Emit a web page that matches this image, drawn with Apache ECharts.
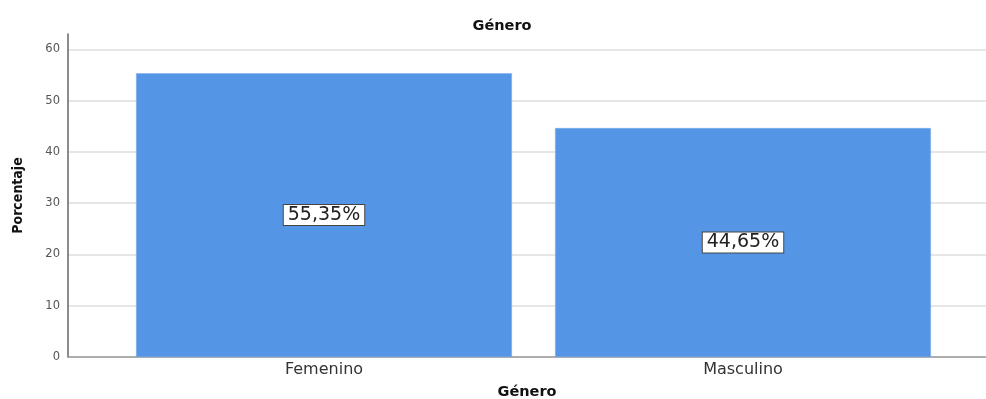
<!DOCTYPE html>
<html>
<head>
<meta charset="utf-8">
<script src="https://cdn.jsdelivr.net/npm/echarts@6/dist/echarts.min.js"></script>
<style>
  html, body { margin: 0; padding: 0; background: #fff; }
  #chart { width: 986px; height: 399px; }
</style>
</head>
<body>
<div id="chart"></div>
<script>
// Gender distribution (percent)
const chartTitle = 'Género';
const categories = ['Femenino', 'Masculino'];
const percentages = [55.35, 44.65];
const yTicks = [0, 10, 20, 30, 40, 50, 60];
const axisNameX = 'Género';
const axisNameY = 'Porcentaje';

const chart = echarts.init(document.getElementById('chart'));

const fmtPct = v => v.toFixed(2).replace('.', ',') + '%';

const option = {
  animation: false,
  backgroundColor: '#ffffff',
  title: {
    text: chartTitle,
    left: 497,
    textAlign: 'center',
    top: 14,
    textStyle: { fontFamily: 'DejaVu Sans', fontSize: 14.5, fontWeight: 'bold', color: '#111' }
  },
  grid: [
    // frame grid: y axis, gridlines and baseline across the full width
    { left: 68, right: 0, top: 34, bottom: 42, outerBoundsMode: 'none' },
    // bar grid
    { left: 114.5, width: 838, top: 34, bottom: 42, outerBoundsMode: 'none' }
  ],
  xAxis: [
    {
      gridIndex: 0,
      type: 'value',
      min: 0, max: 1,
      axisLine: { show: true, lineStyle: { color: '#9a9a9a', width: 1.5 } },
      axisTick: { show: false },
      axisLabel: { show: false },
      splitLine: { show: false },
      name: axisNameX,
      nameLocation: 'middle',
      nameGap: 28,
      nameTextStyle: { fontFamily: 'DejaVu Sans', fontSize: 14.5, fontWeight: 'bold', color: '#111' }
    },
    {
      gridIndex: 1,
      type: 'category',
      data: categories,
      axisLine: { show: false },
      axisTick: { show: false },
      axisLabel: { margin: 5, fontFamily: 'DejaVu Sans', fontSize: 16, color: '#333' }
    }
  ],
  yAxis: [
    {
      gridIndex: 0,
      type: 'value',
      min: 0, max: 63, interval: 10,
      axisLine: { show: true, lineStyle: { color: '#666', width: 1.5 } },
      axisTick: { show: false },
      axisLabel: {
        showMaxLabel: false,
        margin: 8,
        fontFamily: 'DejaVu Sans', fontSize: 11.5, color: '#555',
        formatter: v => (yTicks.indexOf(v) >= 0 ? String(v) : '')
      },
      splitLine: { show: true, showMaxLine: false, lineStyle: { color: '#dedede', width: 1.5 } },
      name: axisNameY,
      nameLocation: 'middle',
      nameGap: 43,
      nameRotate: 90,
      nameTextStyle: { fontFamily: 'DejaVu Sans Condensed', fontSize: 14, fontWeight: 'bold', color: '#111' }
    },
    {
      gridIndex: 1,
      type: 'value',
      min: 0, max: 63,
      show: false
    }
  ],
  series: [{
    type: 'bar',
    xAxisIndex: 1,
    yAxisIndex: 1,
    data: percentages,
    barCategoryGap: '10.3%',
    itemStyle: { color: '#5595e5', borderColor: '#7aaaea', borderWidth: 0.5 },
    label: {
      show: true,
      position: 'inside',
      formatter: p => fmtPct(p.value),
      fontFamily: 'DejaVu Sans',
      fontSize: 19,
      color: '#222',
      backgroundColor: '#ffffff',
      borderColor: '#444',
      borderWidth: 1,
      padding: [1, 4, 0, 4]
    }
  }]
};

chart.setOption(option);
</script>
</body>
</html>
